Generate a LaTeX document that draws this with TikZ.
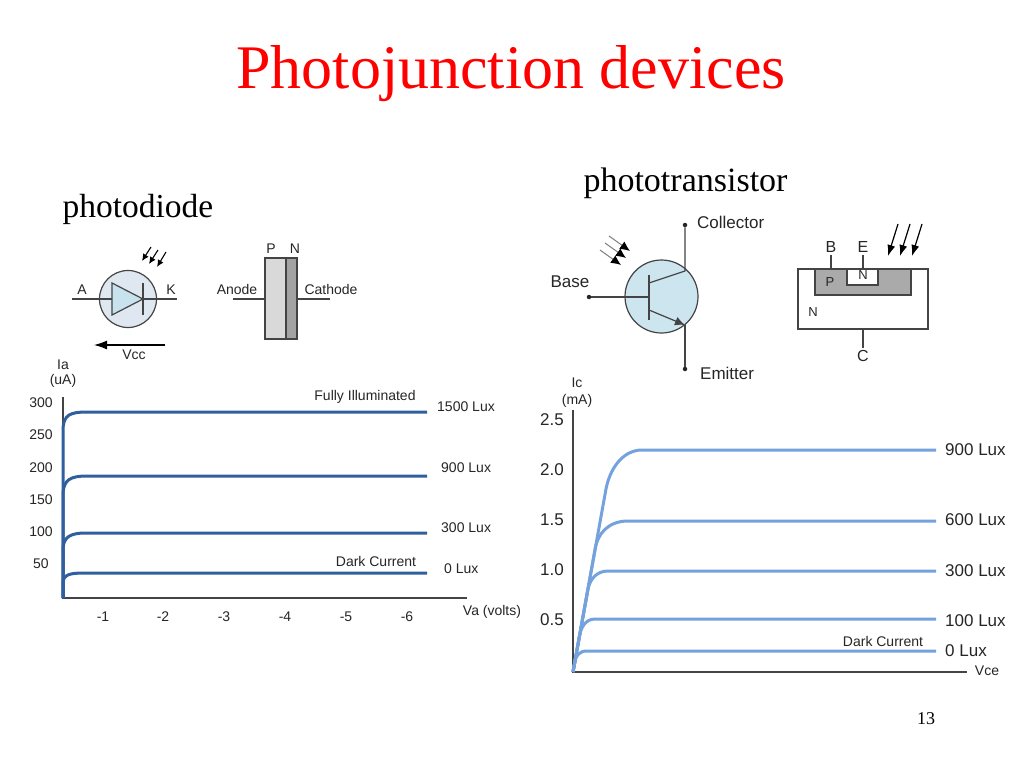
\documentclass[tikz,border=0pt]{standalone}
\usepackage{fontspec}
\setmainfont{Liberation Serif}
\setsansfont{Liberation Sans}
\usetikzlibrary{arrows.meta}

\definecolor{titlered}{HTML}{FF0000}
\definecolor{labelgray}{HTML}{262626}
\definecolor{wiregray}{HTML}{444444}
\definecolor{darkcurve}{HTML}{2F5F9F}
\definecolor{lightcurve}{HTML}{74A2DC}
\definecolor{diodeball}{HTML}{DFE8F0}
\definecolor{diodefill}{HTML}{C8E3EE}
\definecolor{transball}{HTML}{CDE5EE}
\definecolor{pgray}{HTML}{D9D9D9}
\definecolor{ngray}{HTML}{A3A3A3}
\definecolor{basegray}{HTML}{AAAAAA}

\begin{document}
\begin{tikzpicture}[x=1pt,y=-1pt,
    lbl/.style={font=\fontsize{14}{16}\sffamily\selectfont, text=labelgray, inner sep=0pt},
    biglbl/.style={font=\fontsize{17}{19}\sffamily\selectfont, text=labelgray, inner sep=0pt},
    wire/.style={line width=1.2pt, draw=wiregray},
    ray/.style={line width=1.1pt, -{Latex[length=7pt,width=6.5pt]}},
    dot/.style={circle, fill=labelgray, inner sep=0pt, minimum size=4.5pt}]
  \fill[white] (0,0) rectangle (1024,768);
  \useasboundingbox (0,0) rectangle (1024,768);

  % titles
  \node (title) [anchor=base, text=titlered, font=\fontsize{62}{70}\selectfont] at (511,88) {Photojunction devices};
  \node (pdtitle) [anchor=base west, font=\fontsize{33.5}{40}\selectfont] at (59,217) {photodiode};
  \node (pttitle) [anchor=base west, font=\fontsize{34}{40}\selectfont] at (580,191) {phototransistor};
  \node (page) [anchor=base, font=\fontsize{18}{20}\selectfont] at (926,724) {13};

  % photodiode symbol
  \coordinate (pdA) at (72,299);
  \coordinate (pdK) at (177,299);
  \coordinate (triL) at (112,299);
  \coordinate (triR) at (143,299);
  \draw[wire, fill=diodeball] (128,299) circle (28.5);
  \draw[wire] (pdA) -- (triL);
  \draw[wire, fill=diodefill] (112,283) -- (112,315) -- (triR) -- cycle;
  \draw[wire] (143,283) -- (143,315);
  \draw[wire] (triR) -- (pdK);
  \node (lblA) [lbl] at (82,290) {A};
  \node (lblK) [lbl] at (171,290) {K};
  \draw[ray] (151,247) -- (142,261);
  \draw[ray] (158,250) -- (149,264);
  \draw[ray] (166,252) -- (157,267);
  \coordinate (vccR) at (165,345);
  \coordinate (vccL) at (94,345);
  \draw[line width=1.2pt, -{Latex[length=13pt,width=9pt]}] (vccR) -- (vccL);
  \node (lblVcc) [lbl] at (134,355) {Vcc};

  % p-n block
  \draw[wire, fill=pgray] (265,258) rectangle (286,339);
  \draw[wire, fill=ngray] (286,258) rectangle (297,339);
  \node (lblP) [lbl] at (271,249) {P};
  \node (lblN) [lbl] at (295,249) {N};
  \coordinate (anodeEnd) at (233,299);
  \coordinate (anodePin) at (265,299);
  \coordinate (cathPin) at (297,299);
  \coordinate (cathEnd) at (330,299);
  \draw[wire] (anodeEnd) -- (anodePin);
  \draw[wire] (cathPin) -- (cathEnd);
  \node (lblAnode) [lbl] at (237,289) {Anode};
  \node (lblCath) [lbl] at (331,289) {Cathode};

  % phototransistor symbol
  \draw[wire, fill=transball] (661.5,296.5) circle (36.5);
  \node (bdot) [dot] at (589,297) {};
  \node (cdot) [dot] at (685,225) {};
  \node (edot) [dot] at (685,369) {};
  \coordinate (bbar) at (649,297);
  \coordinate (ckink) at (685,271);
  \coordinate (ekink) at (685,325);
  \draw[wire] (bdot) -- (bbar);
  \draw[line width=1.6pt, draw=wiregray] (649,275) -- (649,320);
  \draw[wire] (cdot) -- (ckink) -- (649,283);
  \draw[wire, -{Latex[length=10pt,width=9pt]}] (649,310) -- (ekink);
  \draw[wire] (ekink) -- (edot);
  \node (lblColl) [biglbl, anchor=west] at (697,222) {Collector};
  \node (lblBase) [biglbl] at (570,282) {Base};
  \node (lblEmit) [biglbl, anchor=west] at (700,373) {Emitter};
  \draw[gray, line width=1pt, -{Latex[length=10pt,width=9pt,black]}] (609,236) -- (630,251);
  \draw[gray, line width=1pt, -{Latex[length=10pt,width=9pt,black]}] (605,243) -- (626,258);
  \draw[gray, line width=1pt, -{Latex[length=10pt,width=9pt,black]}] (600,250) -- (621,265);

  % transistor structure
  \draw[wire] (798,269) rectangle (928,329);
  \draw[wire, fill=basegray] (815,269) rectangle (911,295);
  \draw[wire, fill=white] (847,269) rectangle (878,285);
  \node (lblSP) [lbl, font=\fontsize{13}{15}\sffamily\selectfont] at (830,282) {P};
  \node (lblSN) [lbl, font=\fontsize{13}{15}\sffamily\selectfont] at (863,275) {N};
  \node (lblSNb) [lbl, font=\fontsize{13}{15}\sffamily\selectfont] at (813,312) {N};
  \node (lblB) [biglbl, font=\fontsize{16}{18}\sffamily\selectfont] at (831,247) {B};
  \node (lblE) [biglbl, font=\fontsize{16}{18}\sffamily\selectfont] at (863,247) {E};
  \node (lblC) [biglbl, font=\fontsize{16}{18}\sffamily\selectfont] at (863,356) {C};
  \draw[wire] (lblB.south) ++(0,2) -- (831,269);
  \draw[wire] (lblE.south) ++(0,2) -- (863,269);
  \draw[wire] (863,329) -- ([yshift=2]lblC.north);
  \draw[line width=1.2pt, -{Latex[length=11pt,width=8pt]}] (898,224) -- (888,256);
  \draw[line width=1.2pt, -{Latex[length=11pt,width=8pt]}] (910,224) -- (900,256);
  \draw[line width=1.2pt, -{Latex[length=11pt,width=8pt]}] (922,224) -- (912,256);

  % photodiode characteristic
  \coordinate (pdO) at (63,598);
  \coordinate (pdY) at (63,397);
  \coordinate (pdX) at (467,598);
  \draw[line width=2pt, draw=wiregray] (pdY) -- (pdO) -- (pdX);
  \draw[line width=3pt, draw=darkcurve] (pdO) -- (63,428) .. controls (64,415) and (70,412) .. (87,412) -- (427,412);
  \draw[line width=3pt, draw=darkcurve] (pdO) -- (63,493) .. controls (64,480) and (70,476) .. (87,476) -- (427,476);
  \draw[line width=3pt, draw=darkcurve] (pdO) -- (63,548) .. controls (64,537) and (70,533) .. (86,533) -- (427,533);
  \draw[line width=3pt, draw=darkcurve] (pdO) -- (63,582) .. controls (64,575) and (69,573) .. (84,573) -- (427,573);
  \node (ia) [lbl] at (63,365) {Ia};
  \node (iaunit) [lbl] at (63,381) {(uA)};
  \node (ia300) [lbl] at (41,403) {300};
  \node (ia250) [lbl] at (41,435) {250};
  \node (ia200) [lbl] at (41,468) {200};
  \node (ia150) [lbl] at (41,500) {150};
  \node (ia100) [lbl] at (41,532) {100};
  \node (ia50) [lbl] at (41,564) {50};
  \node (va1) [lbl] at (103,617) {-1};
  \node (va2) [lbl] at (163,617) {-2};
  \node (va3) [lbl] at (224,617) {-3};
  \node (va4) [lbl] at (285,617) {-4};
  \node (va5) [lbl] at (346,617) {-5};
  \node (va6) [lbl] at (407,617) {-6};
  \node (vaunit) [lbl] at (492,612) {Va (volts)};
  \node (fully) [lbl] at (365,397) {Fully Illuminated};
  \node (lux1500) [lbl, anchor=west] at (437,407) {1500 Lux};
  \node (lux900) [lbl, anchor=west] at (441,468) {900 Lux};
  \node (lux300) [lbl, anchor=west] at (441,528) {300 Lux};
  \node (dark) [lbl] at (376,561) {Dark Current};
  \node (lux0) [lbl, anchor=west] at (444,569) {0 Lux};

  % phototransistor characteristic
  \coordinate (ptO) at (573,672);
  \coordinate (ptY) at (573,410);
  \coordinate (ptX) at (967,672);
  \draw[line width=1.5pt, draw=wiregray] (ptY) -- (ptO) -- (ptX);
  \draw[line width=3pt, draw=lightcurve] (ptO) -- (605.8,490) .. controls (609.3,470) and (622,450) .. (642,450) -- (936,450);
  \draw[line width=3pt, draw=lightcurve] (ptO) -- (595.3,548) .. controls (597.8,534) and (608,521) .. (628,521) -- (936,521);
  \draw[line width=3pt, draw=lightcurve] (ptO) -- (587.8,590) .. controls (589.6,580) and (596,571) .. (608,571) -- (936,571);
  \draw[line width=3pt, draw=lightcurve] (ptO) -- (579.5,636) .. controls (581,628) and (585,619) .. (595,619) -- (936,619);
  \draw[line width=3pt, draw=lightcurve] (ptO) -- (574.8,662) .. controls (575.8,656) and (579,651) .. (587,651) -- (936,651);
  \node (ic) [lbl] at (577,383) {Ic};
  \node (icunit) [lbl] at (577,401) {(mA)};
  \node (ic25) [biglbl] at (552,420) {2.5};
  \node (ic20) [biglbl] at (552,470) {2.0};
  \node (ic15) [biglbl] at (552,520) {1.5};
  \node (ic10) [biglbl] at (552,570) {1.0};
  \node (ic05) [biglbl] at (552,620) {0.5};
  \node (lx900) [biglbl, anchor=west] at (945,450) {900 Lux};
  \node (lx600) [biglbl, anchor=west] at (945,520) {600 Lux};
  \node (lx300) [biglbl, anchor=west] at (945,571) {300 Lux};
  \node (lx100) [biglbl, anchor=west] at (945,621) {100 Lux};
  \node (lx0) [biglbl, anchor=west] at (945,651) {0 Lux};
  \node (ptdark) [lbl] at (883,641) {Dark Current};
  \node (vce) [lbl] at (987,671) {Vce};
\end{tikzpicture}
\end{document}
